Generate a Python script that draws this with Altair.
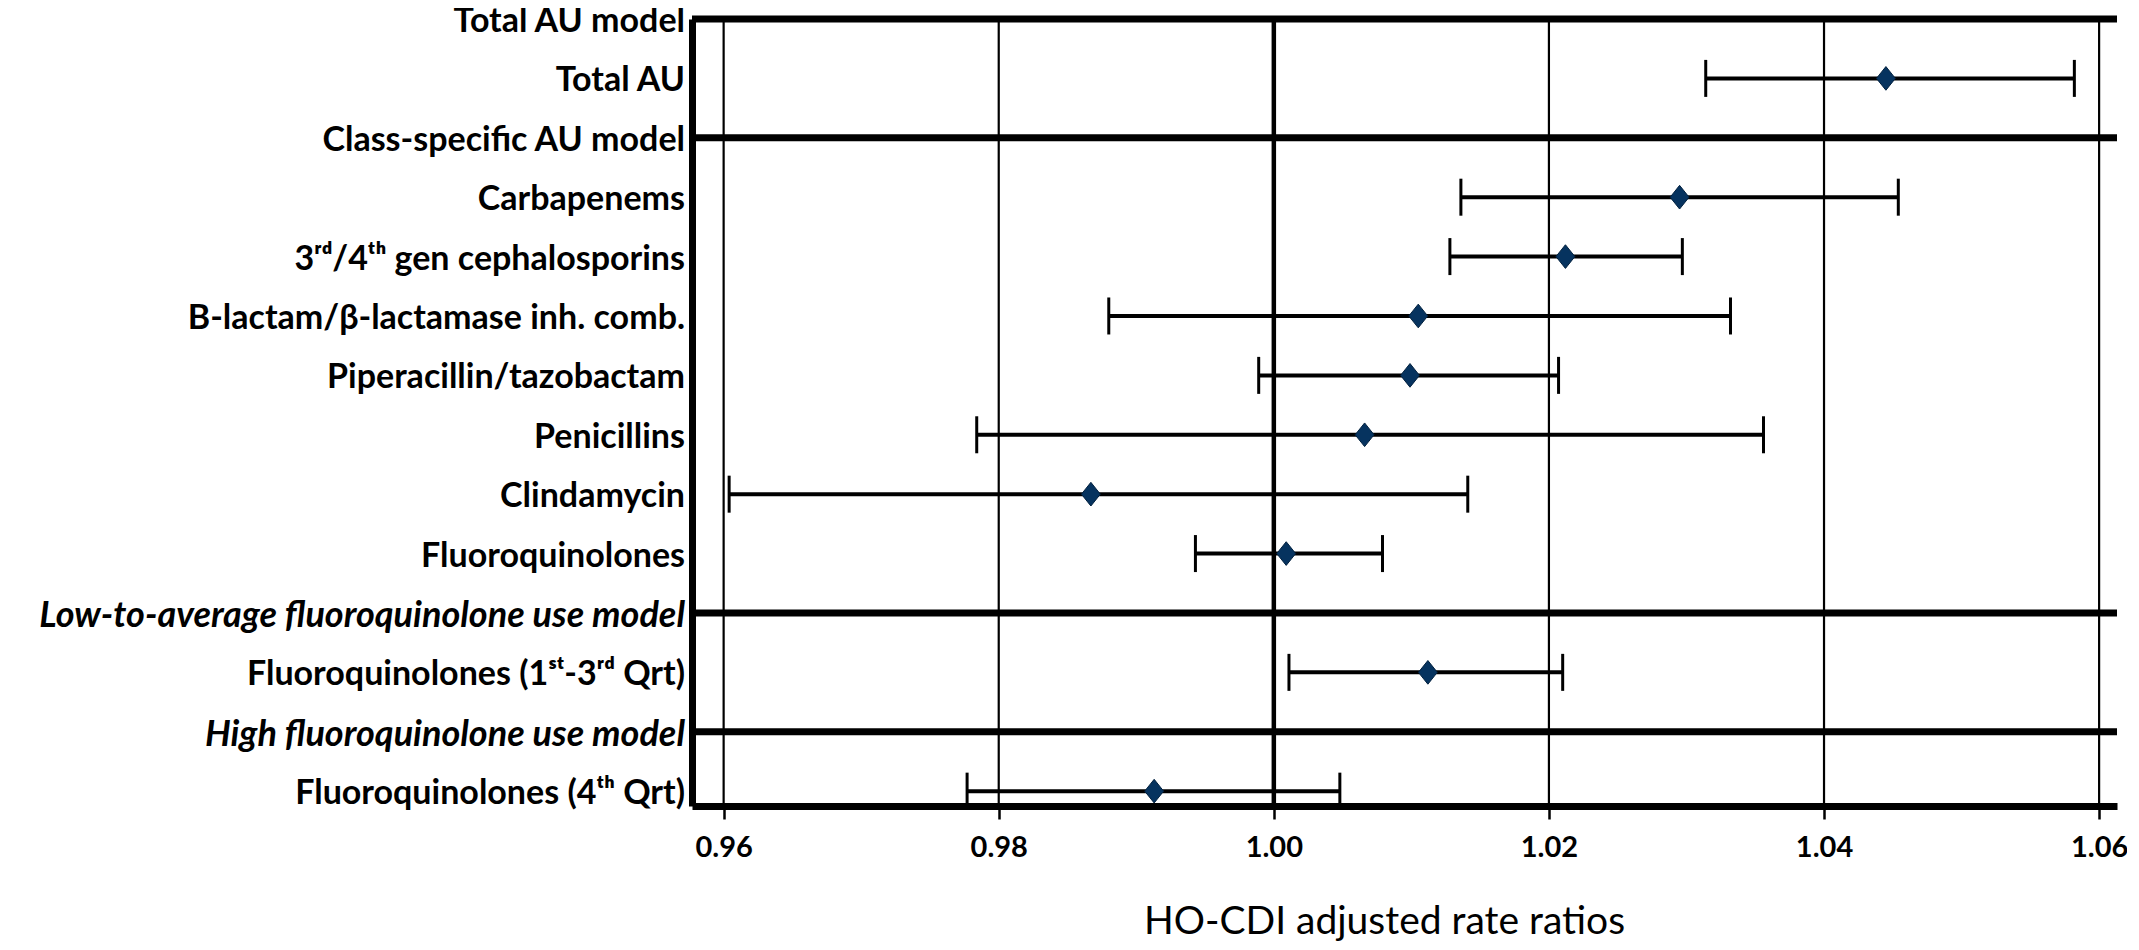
import altair as alt
import pandas as pd

# Row labels, top to bottom (row index = position)
row_labels = [
    "Total AU model",
    "Total AU",
    "Class-specific AU model",
    "Carbapenems",
    "3ʳᵈ/4ᵗʰ gen cephalosporins",
    "B-lactam/β-lactamase inh. comb.",
    "Piperacillin/tazobactam",
    "Penicillins",
    "Clindamycin",
    "Fluoroquinolones",
    "Low-to-average fluoroquinolone use model",
    "Fluoroquinolones (1ˢᵗ-3ʳᵈ Qrt)",
    "High fluoroquinolone use model",
    "Fluoroquinolones (4ᵗʰ Qrt)",
]
header_rows = [0, 2, 10, 12]
italic_rows = [10, 12]

# Estimates (rows with data)
data_rows = [1, 3, 4, 5, 6, 7, 8, 9, 11, 13]
estimate = [1.0445, 1.0295, 1.0212, 1.0105, 1.0099, 1.0066, 0.9867, 1.0009, 1.0112, 0.9913]
lower = [1.0314, 1.0136, 1.0128, 0.9880, 0.9989, 0.9784, 0.9604, 0.9943, 1.0011, 0.9777]
upper = [1.0582, 1.0454, 1.0297, 1.0332, 1.0207, 1.0356, 1.0141, 1.0079, 1.0210, 1.0048]

tick_values = [0.96, 0.98, 1.00, 1.02, 1.04, 1.06]
x_domain = [0.9577, 1.0613]
y_domain = [0, 13.25]

FONT = "Lato"

labels_df = pd.DataFrame({
    "label": row_labels,
    "row": list(range(len(row_labels))),
    "italic": [i in italic_rows for i in range(len(row_labels))],
})
est_df = pd.DataFrame({"row": data_rows, "est": estimate, "lo": lower, "hi": upper})
grid_df = pd.DataFrame({"v": tick_values, "ref": [v == 1.0 for v in tick_values]})
sep_df = pd.DataFrame({"row": header_rows})

xscale = alt.Scale(domain=x_domain, nice=False, zero=False)
yscale = alt.Scale(domain=y_domain, nice=False, zero=False, reverse=True)

x_axis = alt.Axis(
    values=tick_values, format=".2f", grid=False,
    domainWidth=7, domainColor="black",
    tickSize=13, tickWidth=2.5, tickColor="black",
    labelFont=FONT, labelFontWeight="bold", labelFontSize=29, labelColor="black",
    labelPadding=14, labelFlush=False, labelOverlap=False,
    title="HO-CDI adjusted rate ratios", titleFont=FONT, titleFontWeight="normal",
    titleFontSize=39, titleColor="black", titlePadding=40, titleX=692, titleAlign="center",
)
y_axis = alt.Axis(labels=False, ticks=False, grid=False, title=None,
                  domainWidth=7, domainColor="black")

grid = alt.Chart(grid_df).mark_rule(color="black").encode(
    x=alt.X("v:Q", scale=xscale, axis=x_axis),
    strokeWidth=alt.condition("datum.ref", alt.value(4.5), alt.value(2.2)),
)

seps = alt.Chart(sep_df).mark_rule(color="black", strokeWidth=7).encode(
    y=alt.Y("row:Q", scale=yscale, axis=y_axis),
)

bars = alt.Chart(est_df).mark_rule(color="black", strokeWidth=4).encode(
    x=alt.X("lo:Q", scale=xscale),
    x2="hi:Q",
    y=alt.Y("row:Q", scale=yscale),
)
cap_lo = alt.Chart(est_df).mark_tick(color="black", orient="vertical", size=37, thickness=3, opacity=1).encode(
    x=alt.X("lo:Q", scale=xscale),
    y=alt.Y("row:Q", scale=yscale),
)
cap_hi = alt.Chart(est_df).mark_tick(color="black", orient="vertical", size=37, thickness=3, opacity=1).encode(
    x=alt.X("hi:Q", scale=xscale),
    y=alt.Y("row:Q", scale=yscale),
)
points = alt.Chart(est_df).mark_point(
    shape="M-0.8,0L0,-1L0.8,0L0,1Z", filled=True, size=560, color="#06335f", opacity=1,
    stroke="#02213f", strokeWidth=1,
).encode(
    x=alt.X("est:Q", scale=xscale),
    y=alt.Y("row:Q", scale=yscale),
)

text_normal = alt.Chart(labels_df).transform_filter("!datum.italic").mark_text(
    align="right", baseline="middle", font=FONT, fontWeight="bold", fontSize=34, color="black", dy=3,
).encode(
    x=alt.value(-7),
    y=alt.Y("row:Q", scale=yscale),
    text="label:N",
)
text_italic = alt.Chart(labels_df).transform_filter("datum.italic").mark_text(
    align="right", baseline="middle", font=FONT, fontWeight="bold", fontStyle="italic",
    fontSize=36, color="black", dy=3,
).encode(
    x=alt.value(-7),
    y=alt.Y("row:Q", scale=yscale),
    text="label:N",
)

chart = alt.layer(grid, seps, bars, cap_lo, cap_hi, points, text_normal, text_italic).properties(
    width=1425,
    height=787,
    autosize=alt.AutoSizeParams(type="none"),
    padding={"left": 684, "top": 11, "right": 10, "bottom": 136},
).configure_view(stroke=None)

chart.save("out.html", embed_options={"renderer": "svg", "actions": False})
